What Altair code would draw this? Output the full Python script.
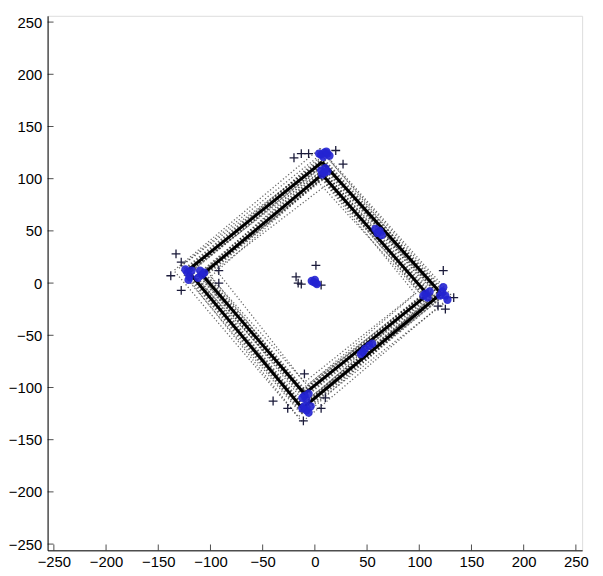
import altair as alt
import pandas as pd

# ---- data ----
tick_values = [-250, -200, -150, -100, -50, 0, 50, 100, 150, 200, 250]

# solid tracks: corners top, right, bottom, left (closed)
solid_outer_x = [7, 121, -12, -122, 7]
solid_outer_y = [116, -10, -120, 12, 116]
solid_inner_x = [7, 108, -10, -108, 7]
solid_inner_y = [104, -11, -106, 8, 104]

# dotted tracks
dotted_x = [
    [5, 131, -12, -135, 5],
    [8, 127, -16, -130, 8],
    [11, 124, -8, -127, 11],
    [3, 121, -15, -125, 3],
    [9, 118, -11, -120, 9],
    [12, 115, -10, -116, 12],
    [5, 112, -5, -114, 5],
    [9, 106, -13, -106, 9],
    [9, 103, -13, -103, 9],
    [3, 99, -7, -100, 3],
    [11, 96, -10, -95, 11],
]
dotted_y = [
    [129, -12, -133, 12, 129],
    [125, -17, -128, 15, 125],
    [121, -7, -125, 17, 121],
    [119, -14, -123, 7, 119],
    [114, -9, -118, 10, 114],
    [112, -13, -114, 15, 112],
    [110, -6, -112, 5, 110],
    [102, -10, -104, 8, 102],
    [100, -12, -102, 11, 100],
    [97, -8, -98, 6, 97],
    [94, -10, -95, 13, 94],
]

blue_x = [6, 9, 12, 8, 14, 4, 11,
          6, 9, 12, 7, 10,
          -122, -120, -124, -118, -121,
          -110, -108, -112, -106,
          106, 108, 110, 104,
          122, 125, 127, 123, 120,
          -10, -8, -12, -6,
          -10, -8, -12, -6, -4,
          60, 62, 64, 58,
          48, 52, 46, 55, 44,
          -1, 1, -3, 2, 0]
blue_y = [123, 125, 124, 121, 122, 124, 126,
          108, 106, 107, 104, 110,
          10, 6, 13, 12, 3,
          12, 8, 5, 10,
          -10, -14, -8, -12,
          -8, -12, -16, -4, -12,
          -108, -112, -110, -106,
          -118, -122, -120, -124, -118,
          48, 50, 46, 52,
          -63, -60, -66, -58, -68,
          1, 0, 2, -1, 3]

plus_x = [-13, -6, 27, -20, 20,
          -133, -138, -128, -92, -92, -128,
          123, 125, 133, 118,
          -10, -40, -26, -11, 6, 10,
          1, -18, -16, 6, -13]
plus_y = [124, 124, 114, 120, 127,
          28, 7, -7, 12, 0, 20,
          12, -25, -14, -22,
          -87, -113, -120, -132, -120, -110,
          17, 6, 0, -2, -1]

# ---- tables ----
rows = []
for k, (xs, ys) in enumerate([(solid_outer_x, solid_outer_y), (solid_inner_x, solid_inner_y)]):
    for i, (x, y) in enumerate(zip(xs, ys)):
        rows.append({"sq": f"s{k}", "i": i, "x": x, "y": y})
solid_df = pd.DataFrame(rows)

rows = []
for k, (xs, ys) in enumerate(zip(dotted_x, dotted_y)):
    for i, (x, y) in enumerate(zip(xs, ys)):
        rows.append({"sq": f"d{k}", "i": i, "x": x, "y": y})
dotted_df = pd.DataFrame(rows)

blue_df = pd.DataFrame({"x": blue_x, "y": blue_y})
plus_df = pd.DataFrame({"x": plus_x, "y": plus_y})
ticks_df = pd.DataFrame({"v": tick_values})

W, H = 540, 540
xs = alt.Scale(domain=[-256, 256], nice=False, zero=False)
ys = alt.Scale(domain=[-256, 256], nice=False, zero=False)

xaxis = alt.Axis(values=tick_values, tickSize=0, grid=False, domainColor="black",
                 labelFont="Liberation Sans", labelFontSize=15, labelColor="black",
                 labelPadding=4, title=None)
yaxis = alt.Axis(values=tick_values, tickSize=0, grid=False, domainColor="black",
                 labelFont="Liberation Sans", labelFontSize=15, labelColor="black",
                 labelPadding=6, title=None)

X = lambda f: alt.X(f, scale=xs, axis=xaxis)
Y = lambda f: alt.Y(f, scale=ys, axis=yaxis)

dotted = alt.Chart(dotted_df).mark_line(color="#333333", strokeWidth=1.3, strokeDash=[1.2, 2.2], opacity=0.75).encode(
    x=X("x:Q"), y=Y("y:Q"), detail="sq:N", order="i:Q")

hatch = alt.Chart(solid_df).mark_line(color="black", strokeWidth=8, strokeDash=[1.5, 2], opacity=0.6).encode(
    x=X("x:Q"), y=Y("y:Q"), detail="sq:N", order="i:Q")

solid = alt.Chart(solid_df).mark_line(color="black", strokeWidth=3).encode(
    x=X("x:Q"), y=Y("y:Q"), detail="sq:N", order="i:Q")

plus = alt.Chart(plus_df).mark_point(shape="M-1,0L1,0M0,-1L0,1", filled=False, color="#1a1a3a",
                                     strokeWidth=1.3, size=80, opacity=1).encode(
    x=X("x:Q"), y=Y("y:Q"))

blue = alt.Chart(blue_df).mark_circle(color="#2424d2", size=70, opacity=0.9).encode(
    x=X("x:Q"), y=Y("y:Q"))

xticks = alt.Chart(ticks_df).mark_tick(color="black", orient="vertical", size=6, thickness=1, yOffset=-3).encode(
    x=X("v:Q"), y=alt.value(H))
yticks = alt.Chart(ticks_df).mark_tick(color="black", orient="horizontal", size=6, thickness=1, xOffset=3).encode(
    y=Y("v:Q"), x=alt.value(0))

chart = alt.layer(dotted, hatch, solid, plus, blue, xticks, yticks).properties(
    width=W, height=H,
    autosize=alt.AutoSizeParams(type="none"),
    padding={"left": 40, "top": 5, "right": 13, "bottom": 20},
).configure_view(stroke=None).configure(background="white")

chart.save("out.html", embed_options={"renderer": "svg", "actions": False})
